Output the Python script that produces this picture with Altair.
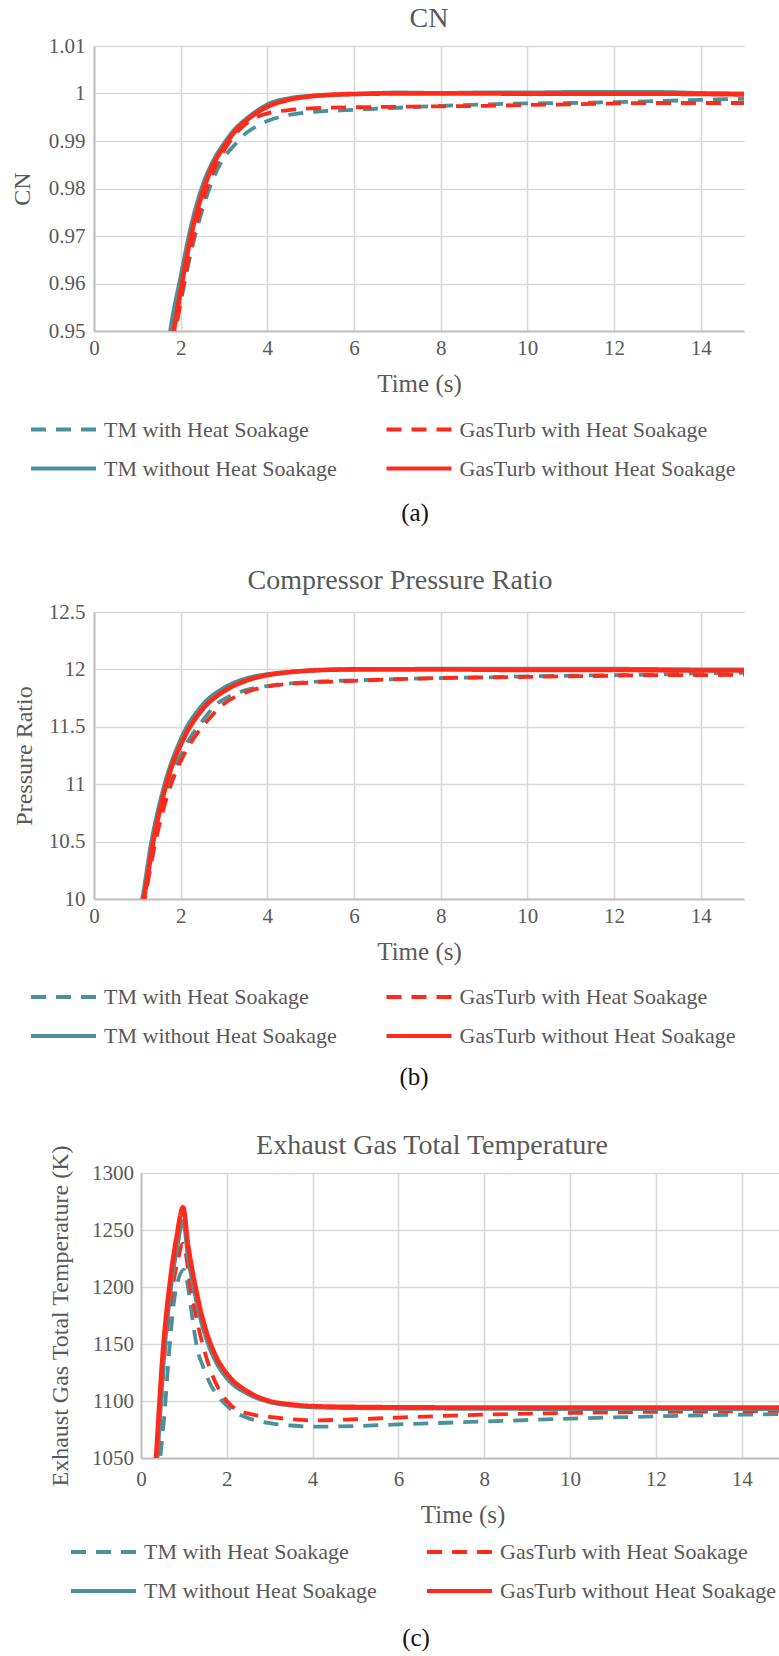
import altair as alt
import pandas as pd

FONT = "Liberation Serif, Times New Roman, Times, serif"
TXT = "#595959"
GRID = "#d9d9d9"
DOMAIN = "#bfbfbf"

SERIES = ["TM with Heat Soakage", "GasTurb with Heat Soakage",
          "TM without Heat Soakage", "GasTurb without Heat Soakage"]
COLORS = ["#4b919b", "#ff2a1a", "#4b919b", "#ff2a1a"]
DASHES = [[15, 10], [15, 10], [1, 0], [1, 0]]
WIDTHS = [3.8, 3.8, 4.0, 4.6]
X_TICKS = [0, 2, 4, 6, 8, 10, 12, 14]

# ---------------- (a) CN ----------------
a_tm_with_t = [1.80, 1.87, 2.00, 2.25, 2.50, 2.75, 3.00, 3.25, 3.50, 3.75, 4.00, 4.50, 5.00, 6.00, 7.00, 8.00, 9.00, 10.0, 11.0, 12.0, 13.0, 14.0, 15.0]
a_tm_with_v = [0.947, 0.950, 0.956, 0.967, 0.9755, 0.9820, 0.9865, 0.9892, 0.9916, 0.9931, 0.9942, 0.9955, 0.9961, 0.99655, 0.9970, 0.9974, 0.9977, 0.9979, 0.9980, 0.99817, 0.9984, 0.99866, 0.9989]
a_gt_with_t = [1.82, 1.88, 2.00, 2.25, 2.50, 2.75, 3.00, 3.25, 3.50, 3.75, 4.00, 4.50, 5.00, 6.00, 7.00, 8.00, 9.00, 10.0, 11.0, 12.0, 13.0, 14.0, 15.0]
a_gt_with_v = [0.947, 0.950, 0.9565, 0.968, 0.9770, 0.9835, 0.9880, 0.9913, 0.9936, 0.9950, 0.9958, 0.9965, 0.99685, 0.9971, 0.9972, 0.9973, 0.9974, 0.9976, 0.9977, 0.9979, 0.9980, 0.9980, 0.9980]
a_tm_without_t = [1.70, 1.76, 2.00, 2.25, 2.50, 2.75, 3.00, 3.25, 3.50, 3.75, 4.00, 4.50, 5.00, 6.00, 7.00, 8.00, 9.00, 10.0, 11.0, 12.0, 13.0, 14.0, 15.0]
a_tm_without_v = [0.946, 0.950, 0.9615, 0.9725, 0.9805, 0.9858, 0.9895, 0.9925, 0.9946, 0.9963, 0.9977, 0.9990, 0.9995, 0.99985, 1.0002, 1.0001, 1.0002, 1.0002, 1.0003, 1.0003, 1.0003, 1.0001, 1.0000]
a_gt_without_t = [1.78, 1.84, 2.00, 2.25, 2.50, 2.75, 3.00, 3.25, 3.50, 3.75, 4.00, 4.50, 5.00, 6.00, 7.00, 8.00, 9.00, 10.0, 11.0, 12.0, 13.0, 14.0, 15.0]
a_gt_without_v = [0.947, 0.950, 0.9585, 0.9705, 0.9790, 0.9850, 0.9888, 0.9920, 0.9942, 0.9959, 0.9972, 0.9987, 0.9994, 0.9999, 1.0000, 1.0000, 1.0000, 0.99995, 0.99995, 0.99995, 0.99995, 0.9999, 0.9998]
a_y_ticks = [0.95, 0.96, 0.97, 0.98, 0.99, 1.0, 1.01]

# ---------------- (b) Pressure ratio ----------------
b_tm_with_t = [1.08, 1.13, 1.37, 1.72, 2.00, 2.18, 2.50, 2.87, 3.00, 3.50, 4.00, 5.00, 6.00, 7.00, 8.00, 9.00, 10.0, 11.0, 12.0, 13.0, 14.0, 15.0]
b_tm_with_v = [9.9, 10.0, 10.5, 11.0, 11.25, 11.38, 11.55, 11.71, 11.74, 11.82, 11.855, 11.89, 11.905, 11.915, 11.925, 11.93, 11.94, 11.945, 11.95, 11.955, 11.965, 11.97]
b_gt_with_t = [1.12, 1.17, 1.42, 1.78, 2.00, 2.25, 2.50, 3.00, 3.50, 4.00, 5.00, 6.00, 7.00, 8.00, 9.00, 10.0, 11.0, 12.0, 13.0, 14.0, 15.0]
b_gt_with_v = [9.9, 10.0, 10.5, 11.0, 11.2, 11.37, 11.5, 11.7, 11.8, 11.85, 11.885, 11.9, 11.915, 11.925, 11.93, 11.935, 11.94, 11.945, 11.95, 11.95, 11.955]
b_tm_without_t = [1.05, 1.11, 1.32, 1.60, 2.00, 2.50, 3.00, 3.50, 4.00, 4.50, 5.00, 6.00, 8.00, 10.0, 12.0, 14.0, 15.0]
b_tm_without_v = [9.9, 10.0, 10.49, 10.96, 11.39, 11.69, 11.84, 11.92, 11.958, 11.978, 11.99, 12.0, 12.005, 12.005, 12.005, 12.0, 12.0]
b_gt_without_t = [1.10, 1.15, 1.37, 1.67, 2.10, 2.50, 3.00, 3.50, 4.00, 4.50, 5.00, 6.00, 8.00, 10.0, 12.0, 14.0, 15.0]
b_gt_without_v = [9.9, 10.0, 10.5, 11.0, 11.42, 11.65, 11.81, 11.9, 11.95, 11.975, 11.99, 12.0, 12.0, 11.995, 11.995, 11.99, 11.99]
b_y_ticks = [10, 10.5, 11, 11.5, 12, 12.5]

# ---------------- (c) Exhaust gas temperature ----------------
c_tm_with_t = [0.40, 0.45, 0.55, 0.65, 0.80, 1.00, 1.12, 1.20, 1.31, 1.45, 1.60, 1.78, 2.00, 2.25, 2.50, 3.00, 3.50, 4.00, 5.00, 6.00, 8.00, 10.0, 12.0, 14.0, 15.0]
c_tm_with_v = [1030, 1050, 1090, 1140, 1195, 1215, 1194, 1172, 1146, 1130, 1116, 1105, 1096, 1089, 1085, 1080.5, 1078.5, 1077.5, 1078, 1079.5, 1082, 1084.5, 1086.5, 1088, 1088.5]
c_gt_with_t = [0.33, 0.38, 0.55, 0.70, 0.85, 0.98, 1.17, 1.38, 1.61, 1.85, 2.00, 2.20, 2.50, 3.00, 3.50, 4.00, 5.00, 6.00, 8.00, 10.0, 12.0, 14.0, 15.0]
c_gt_with_v = [1030, 1050, 1140, 1190, 1222, 1238, 1196, 1158, 1128, 1108, 1100, 1093, 1089, 1086, 1084, 1083, 1084, 1085.5, 1088, 1089.5, 1090.5, 1091, 1091.5]
c_tm_without_t = [0.33, 0.38, 0.55, 0.70, 0.85, 0.98, 1.10, 1.20, 1.30, 1.40, 1.50, 1.75, 2.00, 2.50, 3.00, 3.50, 4.00, 5.00, 6.00, 8.00, 10.0, 12.0, 14.0, 15.0]
c_tm_without_v = [1025, 1050, 1145, 1200, 1236, 1258, 1225, 1204, 1186, 1170, 1157, 1134, 1120, 1106, 1099, 1096, 1094.5, 1093.8, 1093.5, 1093.2, 1093, 1093, 1093, 1093]
c_gt_without_t = [0.30, 0.35, 0.52, 0.68, 0.83, 0.98, 1.10, 1.20, 1.30, 1.40, 1.50, 1.75, 2.00, 2.50, 3.00, 3.50, 4.00, 5.00, 6.00, 8.00, 10.0, 12.0, 14.0, 15.0]
c_gt_without_v = [1020, 1050, 1148, 1206, 1244, 1270, 1236, 1214, 1195, 1178, 1164, 1139, 1124, 1108, 1100, 1097, 1095.5, 1094.8, 1094.5, 1094.3, 1094.3, 1094.3, 1094.3, 1094.3]
c_y_ticks = [1050, 1100, 1150, 1200, 1250, 1300]


def frame(pairs):
    rows = []
    for name, (tt, vv) in zip(SERIES, pairs):
        for a, b in zip(tt, vv):
            rows.append({"series": name, "t": a, "v": b})
    return pd.DataFrame(rows)


ONE = alt.Data(values=[{"k": 0}])


def panel(df, cfg):
    xs = alt.Scale(domain=cfg["xdom"], nice=False, zero=False)
    ys = alt.Scale(domain=cfg["ydom"], nice=False, zero=False)
    xaxis = alt.Axis(values=X_TICKS, format="d", title="Time (s)", grid=True,
                     gridColor=GRID, gridWidth=1.6, domainColor=DOMAIN, domainWidth=2,
                     ticks=False, tickSize=0, labelPadding=cfg["xlabpad"],
                     labelBaseline="middle", labelFlush=False, labelOverlap=False,
                     labelFont=FONT, labelFontSize=21, labelColor=TXT,
                     titleFont=FONT, titleFontSize=25, titleColor=TXT,
                     titleFontWeight="normal", titleX=cfg["xtitle"][0],
                     titleY=cfg["xtitle"][1], titleAlign="center",
                     titleBaseline="middle")
    yaxis = alt.Axis(values=cfg["yticks"], format="~f", title=cfg["ytitle"], grid=True,
                     gridColor=GRID, gridWidth=1.6, domainColor=DOMAIN, domainWidth=2,
                     ticks=False, tickSize=0, labelPadding=cfg["ylabpad"],
                     labelFlush=False, labelOverlap=False,
                     labelFont=FONT, labelFontSize=21, labelColor=TXT,
                     titleFont=FONT, titleFontSize=24, titleColor=TXT,
                     titleFontWeight="normal", titleX=cfg["ytitlex"],
                     titleY=cfg["H"] / 2, titleAngle=270, titleAlign="center",
                     titleBaseline="middle")
    layers = []
    for i, (name, w) in enumerate(zip(SERIES, WIDTHS)):
        lx, ly = cfg["leg"][i]
        legend = alt.Legend(title=None, orient="none", legendX=lx, legendY=ly,
                            symbolType="stroke", symbolSize=4225, symbolStrokeWidth=4,
                            labelFont=FONT, labelFontSize=22, labelColor=TXT,
                            labelOffset=6, labelLimit=500, padding=0)
        cs = alt.Scale(domain=[name], range=[COLORS[i]])
        ds = alt.Scale(domain=[name], range=[DASHES[i]])
        layers.append(
            alt.Chart(df).transform_filter(alt.datum.series == name)
            .mark_line(clip=True, strokeWidth=w, interpolate="monotone")
            .encode(
                x=alt.X("t:Q", scale=xs, axis=xaxis),
                y=alt.Y("v:Q", scale=ys, axis=yaxis),
                color=alt.Color("series:N", scale=cs, legend=legend),
                strokeDash=alt.StrokeDash("series:N", scale=ds, legend=legend),
            )
        )
    title = alt.Chart(ONE).mark_text(text=cfg["title"], font=FONT, fontSize=28, color=TXT,
                                     align="center", baseline="middle").encode(
        x=alt.value(cfg["title_xy"][0]), y=alt.value(cfg["title_xy"][1]))
    caption = alt.Chart(ONE).mark_text(text=cfg["caption"], font=FONT, fontSize=25,
                                       color="#111111", align="center",
                                       baseline="middle").encode(
        x=alt.value(cfg["cap_xy"][0]), y=alt.value(cfg["cap_xy"][1]))
    extent = alt.Chart(ONE).mark_rule(strokeOpacity=0).encode(
        x=alt.value(-cfg["L"]), x2=alt.value(cfg["W"]),
        y=alt.value(-cfg["T"]), y2=alt.value(cfg["B"]))
    body = alt.layer(*layers, title, caption, extent).resolve_scale(
        color="independent", strokeDash="independent").properties(
        width=cfg["W"], height=cfg["H"])
    spacer = alt.Chart(ONE).mark_rule(strokeOpacity=0).encode(
        x=alt.value(0), x2=alt.value(1), y=alt.value(0)).properties(width=1, height=1)
    return alt.hconcat(spacer, body, spacing=0).resolve_scale(
        color="independent", strokeDash="independent")


df_a = frame([(a_tm_with_t, a_tm_with_v), (a_gt_with_t, a_gt_with_v),
              (a_tm_without_t, a_tm_without_v), (a_gt_without_t, a_gt_without_v)])
df_b = frame([(b_tm_with_t, b_tm_with_v), (b_gt_with_t, b_gt_with_v),
              (b_tm_without_t, b_tm_without_v), (b_gt_without_t, b_gt_without_v)])
df_c = frame([(c_tm_with_t, c_tm_with_v), (c_gt_with_t, c_gt_with_v),
              (c_tm_without_t, c_tm_without_v), (c_gt_without_t, c_gt_without_v)])

cfg_a = dict(W=650, H=285, L=93, T=46, B=499, xdom=[0, 15], ydom=[0.95, 1.01],
             yticks=a_y_ticks, ytitle="CN", ytitlex=-72, ylabpad=9, xlabpad=17,
             xtitle=(325, 52),
             leg=[(-65, 349), (290.5, 349), (-65, 388), (290.5, 388)],
             title="CN", title_xy=(335, -27), caption="(a)", cap_xy=(321, 467))
cfg_b = dict(W=650, H=287, L=93, T=67, B=488, xdom=[0, 15], ydom=[10, 12.5],
             yticks=b_y_ticks, ytitle="Pressure Ratio", ytitlex=-70, ylabpad=9,
             xlabpad=17, xtitle=(325, 52),
             leg=[(-65, 350.5), (290.5, 350.5), (-65, 389.5), (290.5, 389.5)],
             title="Compressor Pressure Ratio", title_xy=(306, -31),
             caption="(b)", cap_xy=(320, 465))
cfg_c = dict(W=638, H=285, L=140, T=73, B=482, xdom=[0, 14.87], ydom=[1050, 1300],
             yticks=c_y_ticks, ytitle="Exhaust Gas Total Temperature (K)", ytitlex=-81,
             ylabpad=7.5, xlabpad=21, xtitle=(321.6, 56),
             leg=[(-72, 344.5), (284, 344.5), (-72, 383.5), (284, 383.5)],
             title="Exhaust Gas Total Temperature", title_xy=(291, -27),
             caption="(c)", cap_xy=(275, 465))

chart = alt.vconcat(panel(df_a, cfg_a), panel(df_b, cfg_b), panel(df_c, cfg_c),
                    spacing=0).resolve_scale(
    color="independent", strokeDash="independent").properties(
    padding=0, background="white")
chart = chart.configure_view(strokeWidth=0)

chart.save("out.html", embed_options={"renderer": "svg", "actions": False})
